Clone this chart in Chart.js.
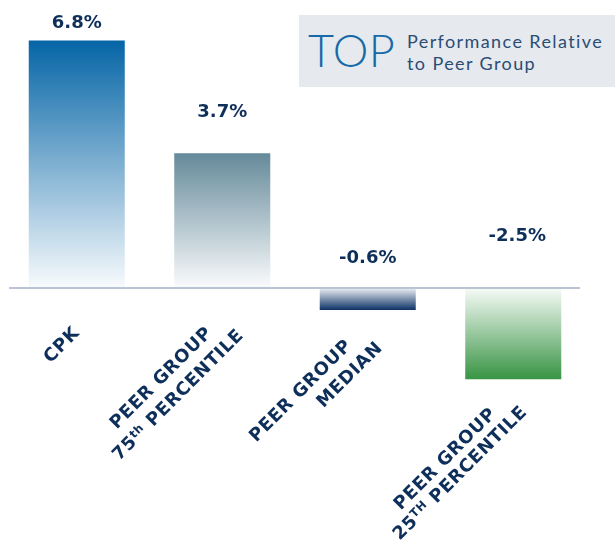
<!DOCTYPE html>
<html>
<head>
<meta charset="utf-8">
<script src="https://cdn.jsdelivr.net/npm/chart.js@4.4.1/dist/chart.umd.min.js"></script>
<style>
html,body{margin:0;padding:0;background:#ffffff;}
#wrap{position:relative;width:615px;height:545px;overflow:hidden;}
#c{position:absolute;left:0;top:0;}
#legend{position:absolute;left:299px;top:15px;width:316px;height:72px;background:#e6e9ee;}
#legTop{position:absolute;left:9px;top:13px;font:300 45px Lato;line-height:45px;color:#1769a8;white-space:nowrap;letter-spacing:0.5px;}
#legTxt{position:absolute;left:108px;top:15px;font:400 18px Lato;line-height:22px;color:#2b4d74;white-space:nowrap;letter-spacing:1.4px;}
</style>
</head>
<body>
<div id="wrap">
  <canvas id="c" width="615" height="545"></canvas>
  <div id="legend">
    <div id="legTop">TOP</div>
    <div id="legTxt">Performance Relative<br>to Peer Group</div>
  </div>
</div>
<script>
// ---- data ----
const categories = ['CPK', 'PEER GROUP 75th PERCENTILE', 'PEER GROUP MEDIAN', 'PEER GROUP 25th PERCENTILE'];
const categoryLines = [
  ['CPK'],
  ['PEER GROUP', '75^th PERCENTILE'],
  ['PEER GROUP', 'MEDIAN'],
  ['PEER GROUP', '25^TH PERCENTILE']
];
const values = [6.8, 3.7, -0.6, -2.5];
const valueLabels = ['6.8%', '3.7%', '-0.6%', '-2.5%'];

// ---- styling / layout ----
const navy = '#0e2f5a';
const gradientStops = [
  [[0, '#0565a6'], [1, '#f8fbfd']],
  [[0, '#658a9a'], [1, '#fafbfc']],
  [[0, '#eef0f4'], [1, '#0c3266']],
  [[0, '#f7fbf7'], [1, '#389444']]
];
const valueOffsets = [[0, -18.5], [0, -43], [0, -32], [4, -54]];
const labelOffsets = [
  [[-16, 56]],
  [[-62, 89], [-45, 106]],
  [[-68, 80], [-19, 64]],
  [[-69, 79], [-54, 93]]
];
const mainFont = 'bold 18px "DejaVu Sans"';
const supFont = 'bold 11.5px "DejaVu Sans"';
let labelSpacing = 1;

function drawRotatedLine(ctx, text, cx, cy) {
  const parts = [];
  const m = text.split('^');
  if (m.length === 1) {
    parts.push({t: text, sup: false});
  } else {
    parts.push({t: m[0], sup: false});
    const rest = m[1];
    const sp = rest.indexOf(' ');
    parts.push({t: rest.slice(0, sp), sup: true});
    parts.push({t: rest.slice(sp), sup: false});
  }
  ctx.save();
  ctx.letterSpacing = labelSpacing + 'px';
  let total = 0;
  parts.forEach(p => { ctx.font = p.sup ? supFont : mainFont; p.w = ctx.measureText(p.t).width; total += p.w; });
  ctx.translate(cx, cy);
  ctx.rotate(-Math.PI / 4);
  ctx.fillStyle = navy;
  ctx.textAlign = 'left';
  ctx.textBaseline = 'alphabetic';
  let xx = -total / 2;
  parts.forEach(p => {
    ctx.font = p.sup ? supFont : mainFont;
    ctx.fillText(p.t, xx, p.sup ? 6.5 - 5.5 : 6.5);
    xx += p.w;
  });
  ctx.restore();
}

const labelPlugin = {
  id: 'customLabels',
  afterDatasetsDraw(chart) {
    const ctx = chart.ctx;
    const xs = chart.scales.x, ys = chart.scales.y;
    const zero = ys.getPixelForValue(0);
    ctx.save();
    // calibrate letter spacing of category labels to the wide original face
    ctx.font = mainFont;
    ctx.letterSpacing = '0px';
    const w0 = ctx.measureText('PEER GROUP').width;
    labelSpacing = Math.max(0, (136 - w0) / 10);
    ctx.strokeStyle = '#b9c5d5';
    ctx.lineWidth = 2;
    ctx.beginPath();
    ctx.moveTo(chart.chartArea.left + 5, zero);
    ctx.lineTo(chart.chartArea.right - 6, zero);
    ctx.stroke();
    values.forEach((v, i) => {
      const cx = xs.getPixelForValue(i);
      const endPx = v >= 0 ? ys.getPixelForValue(v) : zero;
      ctx.font = 'bold 18px "DejaVu Sans"';
      ctx.letterSpacing = '0px';
      ctx.fillStyle = navy;
      ctx.textAlign = 'center';
      ctx.textBaseline = 'alphabetic';
      ctx.fillText(valueLabels[i], cx + valueOffsets[i][0], endPx + valueOffsets[i][1] + 6.5);
      const bottomPx = v >= 0 ? zero : ys.getPixelForValue(v);
      categoryLines[i].forEach((line, j) => {
        const off = labelOffsets[i][j];
        drawRotatedLine(ctx, line, cx + off[0], bottomPx + off[1]);
      });
    });
    ctx.restore();
  }
};

new Chart(document.getElementById('c'), {
  type: 'bar',
  data: {
    labels: categories,
    datasets: [{
      data: values,
      borderWidth: 0,
      categoryPercentage: 1,
      barPercentage: 0.66,
      backgroundColor(c) {
        const chart = c.chart;
        if (!chart.chartArea || c.type !== 'data') return '#0565a6';
        const ys = chart.scales.y;
        const i = c.dataIndex;
        const p0 = ys.getPixelForValue(0), p1 = ys.getPixelForValue(values[i]);
        const g = chart.ctx.createLinearGradient(0, Math.min(p0, p1), 0, Math.max(p0, p1));
        gradientStops[i].forEach(s => g.addColorStop(s[0], s[1]));
        return g;
      }
    }]
  },
  options: {
    responsive: false,
    animation: false,
    devicePixelRatio: 1,
    layout: {padding: {left: 4, right: 29, top: 15, bottom: 2}},
    scales: {
      x: {display: false},
      y: {display: false, min: -7, max: 7.5}
    },
    plugins: {legend: {display: false}, tooltip: {enabled: false}}
  },
  plugins: [labelPlugin]
});
</script>
</body>
</html>
